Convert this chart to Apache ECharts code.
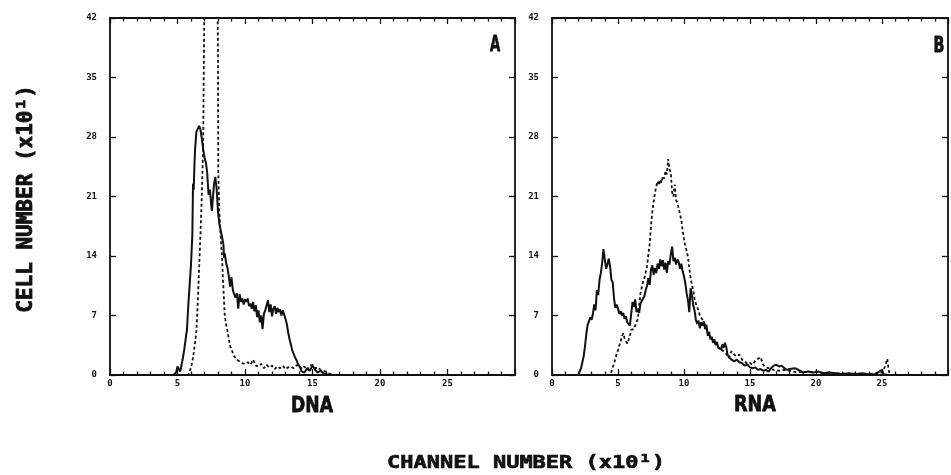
<!DOCTYPE html>
<html>
<head>
<meta charset="utf-8">
<script src="https://cdn.jsdelivr.net/npm/echarts@6/dist/echarts.min.js"></script>
<style>
  html, body { margin: 0; padding: 0; background: #fff; }
  #chart { width: 951px; height: 475px; }
</style>
</head>
<body>
<div id="chart"></div>
<script>
// channel number (x10) vs cell number (x10)
const xTicks = [0, 5, 10, 15, 20, 25]
const yTicks = [0, 7, 14, 21, 28, 35, 42]

// panel A - DNA
const dnaSolid = [[0,0],[4.7,0],[4.9,0.3],[5.0,1.0],[5.1,0.8],[5.2,0.4],[5.3,1.2],[5.4,2.0],[5.5,3.0],[5.6,4.2],[5.7,5.3],[5.8,8.2],[5.9,10.6],[6.0,13.0],[6.1,16.5],[6.15,22.5],[6.2,21.8],[6.25,24.5],[6.3,26.5],[6.4,28.6],[6.5,28.8],[6.6,29.3],[6.7,28.9],[6.8,27.8],[6.9,26.6],[7.0,25.6],[7.1,25.0],[7.2,23.8],[7.3,21.2],[7.4,21.8],[7.5,20.0],[7.55,19.3],[7.6,20.4],[7.7,22.4],[7.8,23.3],[7.9,21.9],[8.0,19.2],[8.1,17.8],[8.2,17.0],[8.3,16.2],[8.4,15.4],[8.45,13.8],[8.5,14.3],[8.6,13.2],[8.7,12.6],[8.8,11.6],[8.9,10.4],[9.0,11.5],[9.1,10.0],[9.2,9.5],[9.3,9.1],[9.4,9.6],[9.5,7.8],[9.6,9.5],[9.7,8.6],[9.8,9.0],[9.9,8.3],[10.0,8.9],[10.1,8.6],[10.2,9.0],[10.3,8.1],[10.4,8.4],[10.5,7.8],[10.6,8.6],[10.7,7.5],[10.8,8.2],[10.9,6.8],[11.0,7.6],[11.1,6.2],[11.2,7.0],[11.3,5.4],[11.4,7.2],[11.5,7.6],[11.6,8.2],[11.7,8.8],[11.8,7.4],[11.9,8.3],[12.0,6.9],[12.1,7.8],[12.2,8.1],[12.3,7.2],[12.4,7.9],[12.5,7.4],[12.6,7.7],[12.7,7.0],[12.8,7.6],[12.9,7.5],[13.0,6.6],[13.1,6.0],[13.2,5.0],[13.3,4.2],[13.4,3.6],[13.5,2.9],[13.6,2.5],[13.7,2.1],[13.8,1.8],[13.9,1.4],[14.0,1.1],[14.1,0.8],[14.2,0.4],[14.3,0.6],[14.4,0.3],[14.6,0.8],[14.8,0.5],[15.0,1.1],[15.2,0.6],[15.4,0.3],[15.6,0.5],[15.8,0.2],[16.0,0.1],[16.5,0],[30,0]]
const dnaDashed = [[0,0],[5.8,0],[5.9,0.4],[6.0,0.9],[6.1,1.6],[6.2,2.6],[6.3,3.8],[6.4,5.2],[6.5,8.5],[6.6,12.5],[6.7,16.5],[6.8,21.0],[6.9,27],[6.97,40],[7.0,46],[7.5,52],[7.95,46],[8.0,38],[8.02,24],[8.1,19.0],[8.2,16.3],[8.3,13.8],[8.4,10.2],[8.5,7.0],[8.6,5.9],[8.7,5.2],[8.8,4.2],[8.9,3.4],[9.0,3.0],[9.1,2.6],[9.2,2.2],[9.3,2.0],[9.4,1.8],[9.6,1.6],[9.8,1.4],[10.0,1.3],[10.2,1.5],[10.4,1.2],[10.6,1.8],[10.8,1.1],[11.0,1.0],[11.2,1.3],[11.4,0.8],[11.6,1.2],[11.8,0.9],[12.0,1.1],[12.2,0.7],[12.4,1.0],[12.6,0.8],[12.8,1.1],[13.0,0.7],[13.2,0.9],[13.4,1.0],[13.6,0.8],[13.8,1.1],[14.0,1.2],[14.2,0.7],[14.4,1.0],[14.6,0.6],[14.8,1.1],[15.0,1.2],[15.2,0.8],[15.4,0.9],[15.6,0.6],[15.8,0.5],[16.0,0.4],[16.2,0.2],[16.5,0],[30,0]]

// panel B - RNA
const rnaSolid = [[0,0],[2.0,0],[2.2,0.8],[2.4,2.2],[2.5,3.4],[2.6,4.8],[2.7,5.9],[2.8,6.3],[2.9,6.8],[3.0,6.5],[3.1,7.2],[3.2,8.3],[3.3,7.6],[3.4,10.0],[3.5,9.4],[3.6,11.2],[3.7,12.0],[3.8,13.2],[3.9,14.8],[4.0,13.6],[4.1,12.5],[4.2,13.0],[4.3,13.7],[4.4,12.8],[4.5,11.2],[4.6,10.9],[4.7,9.0],[4.8,7.9],[4.9,8.3],[5.0,7.8],[5.1,7.2],[5.2,7.5],[5.3,7.0],[5.4,7.3],[5.5,6.6],[5.6,6.9],[5.7,6.2],[5.8,6.4],[5.9,5.8],[6.0,7.2],[6.1,8.6],[6.2,8.0],[6.3,8.9],[6.4,7.4],[6.5,7.8],[6.6,7.3],[6.7,8.4],[6.8,8.2],[6.9,9.0],[7.0,9.3],[7.1,10.0],[7.2,10.5],[7.3,11.4],[7.4,10.6],[7.5,12.4],[7.6,12.9],[7.7,11.8],[7.8,12.6],[7.9,12.0],[8.0,13.1],[8.1,12.5],[8.2,13.6],[8.3,12.8],[8.4,13.5],[8.5,12.4],[8.6,13.2],[8.7,12.0],[8.8,13.4],[8.9,13.0],[9.0,14.2],[9.1,15.1],[9.2,13.4],[9.3,13.8],[9.4,13.0],[9.5,13.6],[9.6,13.3],[9.7,12.5],[9.8,13.1],[9.9,12.2],[10.0,11.6],[10.1,10.8],[10.2,9.6],[10.3,8.8],[10.4,7.4],[10.5,10.2],[10.6,9.4],[10.7,8.2],[10.8,7.6],[10.9,6.5],[11.0,6.0],[11.1,6.4],[11.2,5.5],[11.3,6.2],[11.4,5.8],[11.5,6.3],[11.6,5.4],[11.7,5.9],[11.8,4.6],[11.9,5.1],[12.0,4.2],[12.1,4.5],[12.2,3.8],[12.3,4.2],[12.4,3.5],[12.5,3.9],[12.6,3.2],[12.7,3.4],[12.8,3.0],[12.9,3.6],[13.0,3.2],[13.1,3.8],[13.2,3.3],[13.3,2.4],[13.4,2.1],[13.5,2.3],[13.6,1.8],[13.7,2.0],[13.8,1.6],[14.0,1.8],[14.2,1.5],[14.4,1.4],[14.6,1.1],[14.8,1.2],[15.0,0.9],[15.2,0.8],[15.4,0.9],[15.6,0.6],[15.8,0.7],[16.0,0.5],[16.2,0.6],[16.4,0.4],[16.6,0.8],[16.8,1.1],[17.0,1.2],[17.2,1.0],[17.4,1.1],[17.6,0.8],[17.8,0.6],[18.0,0.7],[18.4,0.8],[18.8,0.5],[19.0,0.3],[19.4,0.4],[19.8,0.3],[20.2,0.4],[20.6,0.2],[21.0,0.3],[21.5,0.2],[22.0,0.1],[22.5,0.2],[23.0,0.1],[23.5,0.2],[24.0,0.1],[24.5,0.1],[25.0,0.6],[25.1,0.1],[25.5,0],[30,0]]
const rnaDashed = [[0,0],[4.4,0],[4.5,0.4],[4.6,0.9],[4.7,1.4],[4.8,1.9],[4.9,2.5],[5.0,2.9],[5.1,3.5],[5.2,3.9],[5.3,4.6],[5.4,4.9],[5.5,4.3],[5.6,4.0],[5.7,3.7],[5.8,4.1],[5.9,4.6],[6.0,5.3],[6.1,5.5],[6.2,5.4],[6.3,5.8],[6.4,6.0],[6.5,6.6],[6.6,8.0],[6.7,9.6],[6.8,10.3],[6.9,11.0],[7.0,11.4],[7.1,12.1],[7.2,12.8],[7.3,14.2],[7.4,15.4],[7.5,17.6],[7.6,19.2],[7.7,20.4],[7.8,21.4],[7.9,22.2],[8.0,22.8],[8.1,22.3],[8.2,23.0],[8.3,22.6],[8.4,23.4],[8.5,23.1],[8.6,24.0],[8.7,23.6],[8.8,25.4],[8.9,24.2],[9.0,23.8],[9.1,21.5],[9.2,21.0],[9.3,22.4],[9.4,20.6],[9.5,20.2],[9.6,20.0],[9.7,18.9],[9.8,18.2],[9.9,17.0],[10.0,16.0],[10.1,15.2],[10.2,14.6],[10.3,13.9],[10.4,12.6],[10.5,11.4],[10.6,10.6],[10.7,10.0],[10.8,9.0],[10.9,8.4],[11.0,8.0],[11.1,7.6],[11.2,7.0],[11.3,6.8],[11.4,6.5],[11.5,6.2],[11.6,5.8],[11.7,5.4],[11.8,5.0],[11.9,4.8],[12.0,4.5],[12.2,4.0],[12.4,3.7],[12.6,3.3],[12.8,3.0],[13.0,2.8],[13.2,2.5],[13.4,2.0],[13.6,2.8],[13.8,2.4],[14.0,2.2],[14.2,2.4],[14.4,1.8],[14.6,1.6],[14.8,1.3],[15.0,1.4],[15.2,1.2],[15.4,1.7],[15.6,1.9],[15.8,2.1],[16.0,1.2],[16.2,0.9],[16.4,0.8],[16.8,0.6],[17.2,0.5],[17.6,0.6],[18.0,0.5],[18.5,0.3],[19.0,0.4],[19.5,0.3],[20.0,0.4],[20.5,0.2],[21.0,0.3],[21.5,0.2],[22.0,0.2],[22.5,0.1],[23.0,0.2],[23.5,0.1],[24.0,0.1],[24.5,0.2],[25.0,0.3],[25.2,0.9],[25.4,1.9],[25.5,0.6],[25.6,0],[30,0]]

const INK = '#111'
const tickFont = {
  color: INK,
  fontFamily: 'DejaVu Sans Mono',
  fontWeight: 'bold',
  fontSize: 9
}

function xAxisFor(grid, pos) {
  return {
    type: 'value',
    gridIndex: grid,
    position: pos,
    min: 0,
    max: 30,
    interval: 5,
    axisLine: { onZero: false, lineStyle: { color: INK, width: 1.8 } },
    axisTick: { inside: true, length: 6, lineStyle: { color: INK, width: 1.3 } },
    minorTick: { show: true, splitNumber: 5, length: 3.5, lineStyle: { color: INK, width: 1.3 } },
    splitLine: { show: false },
    axisLabel: pos === 'bottom' ? {
      ...tickFont,
      margin: 4,
      formatter: v => (xTicks.indexOf(v) >= 0 ? String(v) : '')
    } : { show: false }
  }
}

function yAxisFor(grid, pos) {
  return {
    type: 'value',
    gridIndex: grid,
    position: pos,
    min: 0,
    max: 42,
    interval: 7,
    axisLine: { onZero: false, lineStyle: { color: INK, width: 1.8 } },
    axisTick: { inside: true, length: 6, lineStyle: { color: INK, width: 1.3 } },
    splitLine: { show: false },
    axisLabel: pos === 'left' ? {
      ...tickFont,
      margin: 13,
      formatter: v => (yTicks.indexOf(v) >= 0 ? String(v) : '')
    } : { show: false }
  }
}

function curve(data, ax, dashed) {
  return {
    type: 'line',
    xAxisIndex: ax,
    yAxisIndex: ax,
    data: data,
    symbol: 'none',
    clip: true,
    lineStyle: dashed
      ? { color: INK, width: 1.8, type: [3, 2.5] }
      : { color: INK, width: 2 }
  }
}

// heavy lettering, like the original typeset labels
function label(text, x, y, font, extra) {
  return Object.assign({
    type: 'text', x: x, y: y,
    style: {
      text: text, x: 0, y: 0, align: 'center', verticalAlign: 'middle',
      fill: INK, stroke: INK, lineWidth: 0.8, font: font
    }
  }, extra)
}

const chart = echarts.init(document.getElementById('chart'))

chart.setOption({
  animation: false,
  backgroundColor: '#fff',
  grid: [
    { left: 110, top: 18, width: 405, height: 357 },
    { left: 552, top: 18, width: 403, height: 357 }
  ],
  xAxis: [xAxisFor(0, 'bottom'), xAxisFor(0, 'top'), xAxisFor(1, 'bottom'), xAxisFor(1, 'top')],
  yAxis: [yAxisFor(0, 'left'), yAxisFor(0, 'right'), yAxisFor(1, 'left'), yAxisFor(1, 'right')],
  series: [
    curve(dnaSolid, 0, false),
    curve(dnaDashed, 0, true),
    curve(rnaSolid, 2, false),
    curve(rnaDashed, 2, true)
  ],
  graphic: [
    label('A', 495, 45, 'bold 22px "DejaVu Sans"', { scaleX: 0.6 }),
    label('B', 939, 46, 'bold 22px "DejaVu Sans"', { scaleX: 0.65 }),
    label('DNA', 312, 406, 'bold 22px "DejaVu Sans"', { scaleX: 0.78 }),
    label('RNA', 755, 405, 'bold 22px "DejaVu Sans"', { scaleX: 0.8 }),
    label('CHANNEL NUMBER (x10¹)', 526, 463, 'bold 22px "DejaVu Sans Mono"', { scaleY: 0.82 }),
    label('CELL NUMBER (x10¹)', 27, 199, 'bold 21px "DejaVu Sans Mono"', { rotation: Math.PI / 2 })
  ]
})
</script>
</body>
</html>
